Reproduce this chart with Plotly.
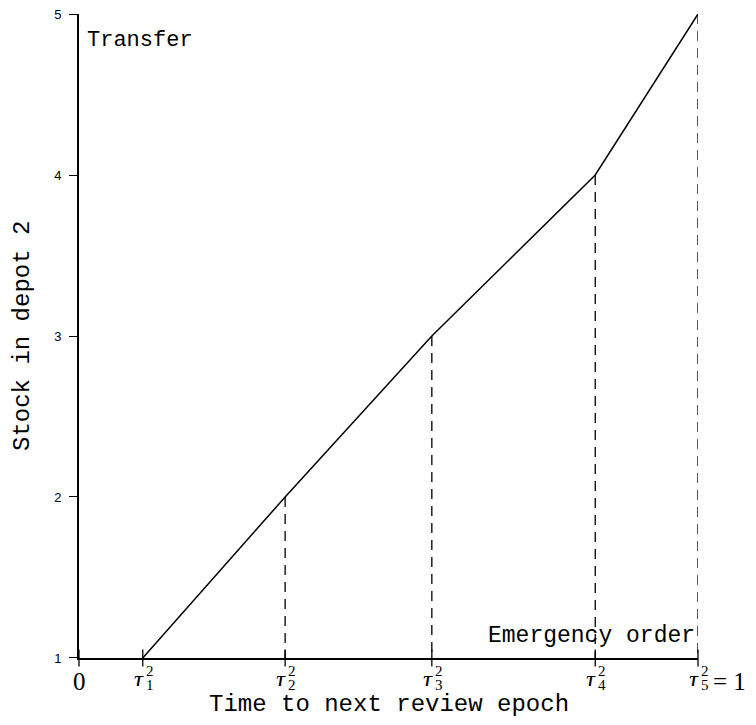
import plotly.graph_objects as go

# Data
tau_positions = [0.103, 0.333, 0.570, 0.834, 1.0]
stock_levels = [1, 2, 3, 4, 5]
tau_index = ["1", "2", "3", "4", "5"]
xtick_positions = [0.0] + tau_positions
ytick_vals = [1, 2, 3, 4, 5]
ytick_text = ["1", "2", "3", "4", "5"]

x_title = "Time to next review epoch"
y_title = "Stock in depot 2"
top_label = "Transfer"
bottom_label = "Emergency order"

fig = go.Figure()

# dashed verticals from each breakpoint down to the axis
for t, s in zip(tau_positions[1:], stock_levels[1:]):
    fig.add_trace(go.Scatter(
        x=[t, t], y=[s, stock_levels[0]], mode="lines",
        line=dict(color="black", width=1.3, dash="10px,7px"),
        hoverinfo="skip", showlegend=False, cliponaxis=False))

# main piecewise linear line
fig.add_trace(go.Scatter(
    x=tau_positions, y=stock_levels, mode="lines",
    line=dict(color="black", width=1.5),
    showlegend=False, cliponaxis=False))

# x ticks crossing the axis
fig.add_trace(go.Scatter(
    x=xtick_positions, y=[stock_levels[0]] * len(xtick_positions), mode="markers",
    marker=dict(symbol="line-ns", size=12, line=dict(color="black", width=1.3)),
    hoverinfo="skip", showlegend=False, cliponaxis=False))

serif = "Liberation Serif"
mono = "Liberation Mono"

ann = []
# "0" tick label
ann.append(dict(x=0, y=1, xref="x", yref="y", text="0", showarrow=False,
                xanchor="center", yanchor="middle", yshift=-24,
                font=dict(family=serif, size=25, color="black")))
for t, k in zip(tau_positions, tau_index):
    ann.append(dict(x=t, y=1, xref="x", yref="y", text="<i>τ</i>", showarrow=False,
                    xanchor="right", yanchor="middle", xshift=3, yshift=-21,
                    width=13, height=14, align="right",
                    font=dict(family=serif, size=25, color="black")))
    ann.append(dict(x=t, y=1, xref="x", yref="y", text="2", showarrow=False,
                    xanchor="left", yanchor="middle", xshift=1, yshift=-13,
                    width=8, height=11, align="left",
                    font=dict(family=serif, size=15, color="black")))
    ann.append(dict(x=t, y=1, xref="x", yref="y", text=k, showarrow=False,
                    xanchor="left", yanchor="middle", xshift=1, yshift=-27,
                    width=8, height=11, align="left",
                    font=dict(family=serif, size=15, color="black")))
ann.append(dict(x=tau_positions[-1], y=1, xref="x", yref="y", text="= 1", showarrow=False,
                xanchor="left", yanchor="middle", xshift=13, yshift=-24,
                font=dict(family=serif, size=25, color="black")))

ann.append(dict(x=0, y=5, xref="x", yref="y", text=top_label, showarrow=False,
                xanchor="left", yanchor="middle", xshift=6, yshift=-26,
                font=dict(family=mono, size=22, color="black")))
ann.append(dict(x=1, y=1, xref="x", yref="y", text=bottom_label, showarrow=False,
                xanchor="right", yanchor="middle", xshift=-1, yshift=22,
                font=dict(family=mono, size=23, color="black")))
ann.append(dict(x=0.5, y=1, xref="paper", yref="y", text=x_title, showarrow=False,
                xanchor="center", yanchor="middle", yshift=-47,
                font=dict(family=mono, size=24, color="black")))
ann.append(dict(x=0, y=3, xref="x", yref="y", text=y_title, showarrow=False,
                xanchor="center", yanchor="middle", xshift=-57, textangle=-90,
                font=dict(family=mono, size=24, color="black")))

# the page body adds an 8px offset; size the figure so the plot lands where the reference has it
fig.update_layout(
    width=748, height=717,
    margin=dict(l=71, r=58, t=6, b=67, autoexpand=False),
    paper_bgcolor="white", plot_bgcolor="white",
    showlegend=False,
    annotations=ann,
    xaxis=dict(range=[0, 1], showline=True, linecolor="black", linewidth=2,
               showgrid=False, zeroline=False, showticklabels=False, ticks="",
               automargin=False),
    yaxis=dict(range=[0.9999, 5.0001], showline=True, linecolor="black", linewidth=2,
               showgrid=False, zeroline=False, ticks="outside", ticklen=8,
               tickwidth=1, tickcolor="black", tickvals=ytick_vals, ticktext=ytick_text,
               ticklabelstandoff=5, ticklabeloverflow="allow", automargin=False,
               tickfont=dict(family="Liberation Sans", size=13, color="black")),
)

fig.write_html("out.html")
